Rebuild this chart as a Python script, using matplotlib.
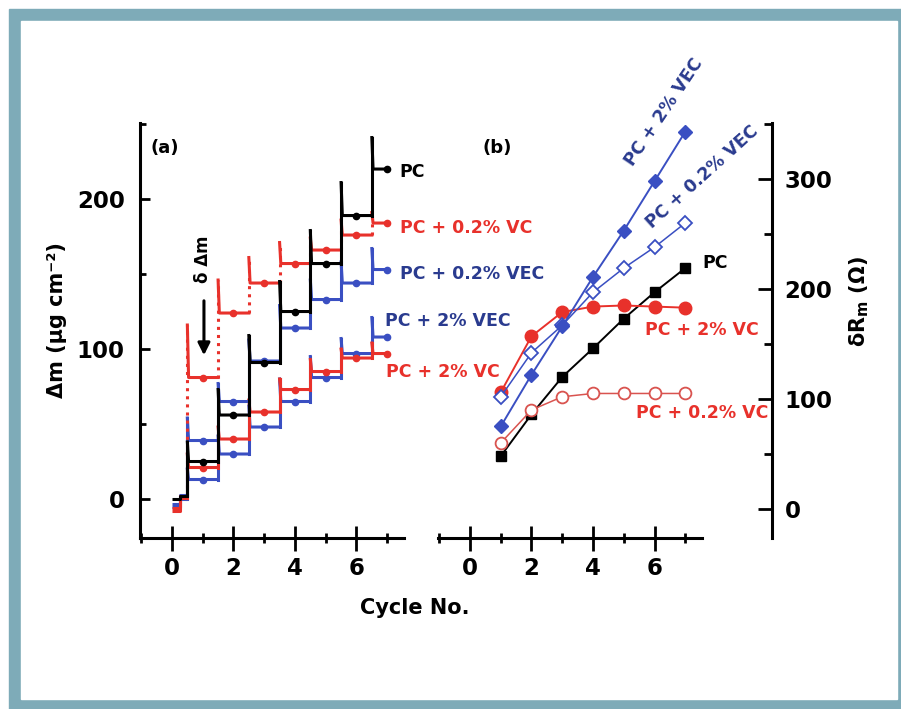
import matplotlib
matplotlib.use('Agg')
import matplotlib.pyplot as plt
from matplotlib.patches import Rectangle
from matplotlib.ticker import FixedLocator

# ---- data -------------------------------------------------------------
# (a) mass change, steps at each half cycle
steps = [0.5, 1.5, 2.5, 3.5, 4.5, 5.5, 6.5]
x_end = 7.0
mark_x = [1, 2, 3, 4, 5, 6, 7]

pc_start, pc_plateau = 0, [2, 25, 56, 91, 125, 157, 189, 220]
pc_spike = [38, 73, 109, 145, 179, 211, 241]
vc02_start, vc02_plateau = -8, [2, 81, 124, 144, 157, 166, 176, 184]
vc02_spike = [116, 146, 161, 171, 174, 186, 191]
vec02_start, vec02_plateau = -3, [3, 39, 65, 92, 114, 133, 144, 153]
vec02_spike = [54, 77, 106, 129, 146, 158, 167]
vec2_start, vec2_plateau = -5, [0, 13, 30, 48, 65, 81, 97, 108]
vec2_spike = [20, 42, 62, 80, 95, 107, 121]
vc2_start, vc2_plateau = -6, [1, 21, 40, 58, 73, 85, 94, 97]
vc2_spike = [30, 48, 66, 80, 93, 100, 104]

# (b) resistance change
cycles = [1, 2, 3, 4, 5, 6, 7]
rm_pc = [48, 86, 120, 146, 173, 197, 219]
rm_vc02 = [60, 90, 102, 105, 105, 105, 105]
rm_vc2 = [106, 157, 179, 184, 185, 184, 183]
rm_vec02 = [102, 142, 167, 197, 219, 238, 260]
rm_vec2 = [75, 122, 166, 211, 253, 298, 343]

# ---- style ------------------------------------------------------------
plt.rcParams['font.family'] = ['DejaVu Sans']
plt.rcParams['font.weight'] = 'bold'
plt.rcParams['mathtext.default'] = 'bf'

red = '#E8312B'
red_lt = '#D9534F'
blue = '#3A4FC2'
navy = '#2A3B8F'
teal = '#7EABB8'

W, H = 901, 709
fig = plt.figure(figsize=(W / 100, H / 100), dpi=100)

def fx(px):
    return px / W

def fy(py):
    return 1 - py / H

# frame
fig.patches.append(Rectangle((fx(9), 0), 1, fy(9), transform=fig.transFigure,
                             color=teal, zorder=-2))
fig.patches.append(Rectangle((fx(21), fy(699)), (897 - 21) / W, (699 - 21) / H,
                             transform=fig.transFigure, color='white', zorder=-1))

ax_a = fig.add_axes([fx(140), fy(538), (403.5 - 140) / W, (538 - 123) / H])
ax_b = fig.add_axes([fx(438), fy(538), (772 - 438) / W, (538 - 123) / H])
for ax in (ax_a, ax_b):
    ax.set_facecolor('none')
    for s in ax.spines.values():
        s.set_linewidth(2.2)
    ax.xaxis.set_major_locator(FixedLocator([0, 2, 4, 6]))
    ax.xaxis.set_minor_locator(FixedLocator([-1, 1, 3, 5, 7]))
    ax.tick_params(axis='x', which='major', direction='inout', length=18,
                   width=2, pad=5, labelsize=16.5)
    ax.tick_params(axis='x', which='minor', direction='inout', length=7, width=2)
    ax.spines['top'].set_visible(False)

# ---- (a) --------------------------------------------------------------
ax_a.set_xlim(-1.04, 7.53)
ax_a.set_ylim(-26, 250.7)
ax_a.spines['right'].set_visible(False)
ax_a.yaxis.set_major_locator(FixedLocator([0, 100, 200]))
ax_a.yaxis.set_minor_locator(FixedLocator([50, 150, 250]))
ax_a.tick_params(axis='y', which='major', direction='in', length=7, width=2,
                 pad=11, labelsize=16.5)
ax_a.tick_params(axis='y', which='minor', direction='in', length=4, width=2)


def mass_curve(ax, start, plateau, spike, color, dotted=False):
    # plateau pieces
    xs = [0, 0.25, 0.25, steps[0]]
    ys = [start, start, plateau[0], plateau[0]]
    ax.plot(xs, ys, color=color, lw=2.2, solid_capstyle='butt')
    for k, x in enumerate(steps):
        nxt = steps[k + 1] if k + 1 < len(steps) else x_end
        ax.plot([x, x], [plateau[k], spike[k]], color=color, lw=2.2,
                ls=':' if dotted else '-')
        ax.plot([x, x + 0.04, nxt], [spike[k], plateau[k + 1], plateau[k + 1]],
                color=color, lw=2.2)
    ax.plot(mark_x, plateau[1:], 'o', color=color, ms=4.5)


mass_curve(ax_a, vec2_start, vec2_plateau, vec2_spike, blue)
mass_curve(ax_a, vc2_start, vc2_plateau, vc2_spike, red)
mass_curve(ax_a, vec02_start, vec02_plateau, vec02_spike, blue)
mass_curve(ax_a, vc02_start, vc02_plateau, vc02_spike, red, dotted=True)
mass_curve(ax_a, pc_start, pc_plateau, pc_spike, 'black')

lab_kw = dict(fontsize=12.5, fontweight='bold', va='center', ha='left')
ax_a.text(7.41, 218, 'PC', color='black', **lab_kw)
ax_a.text(7.41, 181, 'PC + 0.2% VC', color=red, **lab_kw)
ax_a.text(7.41, 150, 'PC + 0.2% VEC', color=navy, **lab_kw)
ax_a.text(6.93, 119, 'PC + 2% VEC', color=navy, **lab_kw)
ax_a.text(6.96, 85, 'PC + 2% VC', color=red, **lab_kw)

ax_a.text(1.0, 160, 'δ Δm', rotation=90, fontsize=12, ha='center', va='center')
ax_a.annotate('', xy=(1.04, 94), xytext=(1.04, 134),
              arrowprops=dict(arrowstyle='-|>', lw=2.2, color='black',
                              mutation_scale=18))

# ---- (b) --------------------------------------------------------------
ax_b.set_xlim(-1.04, 9.82)
ax_b.set_ylim(-26.4, 350.9)
ax_b.spines['left'].set_visible(False)
ax_b.spines['bottom'].set_bounds(-1.04, 7.55)
ax_b.yaxis.tick_right()
ax_b.yaxis.set_major_locator(FixedLocator([0, 100, 200, 300]))
ax_b.yaxis.set_minor_locator(FixedLocator([50, 150, 250, 350]))
ax_b.tick_params(axis='y', which='major', direction='in', length=10, width=2,
                 pad=9, labelsize=16.5)
ax_b.tick_params(axis='y', which='minor', direction='in', length=6, width=2)

ax_b.plot(cycles, rm_pc, '-s', color='black', ms=7.5, lw=1.4)
ax_b.plot(cycles, rm_vc02, '-o', color=red_lt, mfc='white', mec=red_lt,
          mew=1.3, ms=8.5, lw=1.1)
ax_b.plot(cycles, rm_vc2, '-o', color=red, ms=9, lw=1.4)
ax_b.plot(cycles, rm_vec02, '-D', color=blue, mfc='white', mew=1.3, ms=7.5, lw=1.1)
ax_b.plot(cycles, rm_vec2, '-D', color=blue, ms=7.5, lw=1.4, clip_on=False)

ax_b.text(6.31, 361, 'PC + 2% VEC', rotation=56, color=navy, fontsize=12.5,
          ha='center', va='center', rotation_mode='anchor')
ax_b.text(7.54, 302, 'PC + 0.2% VEC', rotation=42, color=navy, fontsize=12.5,
          ha='center', va='center', rotation_mode='anchor')
ax_b.text(7.57, 224, 'PC', color='black', fontsize=12.5, ha='left', va='center')
ax_b.text(7.54, 163, 'PC + 2% VC', color=red, fontsize=12.5, ha='center',
          va='center')
ax_b.text(7.54, 87, 'PC + 0.2% VC', color=red, fontsize=12.5, ha='center',
          va='center')

# ---- labels -----------------------------------------------------------
fig.text(fx(165), fy(148), '(a)', fontsize=13, ha='center', va='center')
fig.text(fx(497), fy(148), '(b)', fontsize=13, ha='center', va='center')
fig.text(fx(415), fy(608), 'Cycle No.', fontsize=15, ha='center', va='center')
fig.text(fx(57), fy(320), 'Δm (μg cm⁻²)', fontsize=15, rotation=90,
         ha='center', va='center')
fig.text(fx(859), fy(302), r'δR$_\mathbf{m}$ (Ω)', fontsize=15, rotation=90,
         ha='center', va='center')

fig.savefig('out.png', dpi=100)
